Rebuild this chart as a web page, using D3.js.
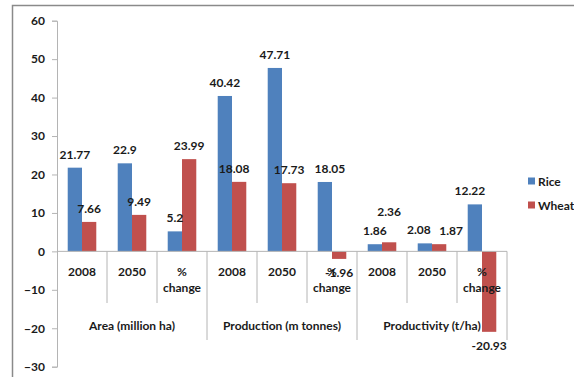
<!DOCTYPE html>
<html>
<head>
<meta charset="utf-8">
<script src="https://cdn.jsdelivr.net/npm/d3@7"></script>
<style>
  html, body { margin: 0; padding: 0; background: #fff; }
  svg { display: block; }
  text { font-family: Lato, "Liberation Sans", sans-serif; font-weight: bold; fill: #1a1a1a; }
</style>
</head>
<body>
<svg id="chart" width="574" height="377"></svg>
<script>
// ---- data ----
const categories = ["2008", "2050", "% change", "2008", "2050", "% change", "2008", "2050", "% change"];
const groups = ["Area (million ha)", "Production (m tonnes)", "Productivity (t/ha)"];
const rice  = [21.77, 22.9, 5.2, 40.42, 47.71, 18.05, 1.86, 2.08, 12.22];
const wheat = [7.66, 9.49, 23.99, 18.08, 17.73, -1.96, 2.36, 1.87, -20.93];
const seriesNames = ["Rice", "Wheat"];
const yTicks = [60, 50, 40, 30, 20, 10, 0, -10, -20, -30];

// ---- layout (label nudges to mimic Excel's placement) ----
const labelNudge = {
  "Wheat-3": [-5, 0], "Rice-5": [5, 0], "Rice-8": [-5, 0],
  "Rice-7": [-6, 0], "Wheat-7": [12, 0], "Wheat-6": [0, -17]
};
const colors = { Rice: "#4F81BD", Wheat: "#C0504D" };

const svg = d3.select("#chart");
const pLeft = 57, pRight = 507, pTop = 20.7, pBottom = 366.7;

// frame
svg.append("rect").attr("x", 12.5).attr("y", 5.5).attr("width", 620).attr("height", 420)
  .attr("fill", "none").attr("stroke", "#8a8a8a").attr("stroke-width", 1.5);

const y = d3.scaleLinear().domain([-30, 60]).range([pBottom, pTop]);
const x = d3.scaleBand().domain(d3.range(categories.length)).range([pLeft, pRight]).padding(0);
const bw = x.bandwidth() / 3.5;

const axisColor = "#b4b4b4";

// y axis
const yAxis = d3.axisLeft(y).tickValues(yTicks).tickSize(5).tickPadding(7);
const gy = svg.append("g").attr("transform", `translate(${pLeft},0)`).call(yAxis);
gy.select(".domain").attr("stroke", axisColor);
gy.selectAll(".tick line").attr("stroke", axisColor);
gy.selectAll(".tick text").attr("font-size", 12).attr("font-family", "Lato, sans-serif")
  .attr("font-weight", "bold").attr("fill", "#1a1a1a");

// bars
const data = [];
categories.forEach((c, i) => {
  data.push({ s: "Rice", i, v: rice[i] });
  data.push({ s: "Wheat", i, v: wheat[i] });
});
const bx = d => x(d.i) + 0.75 * bw + (d.s === "Wheat" ? bw : 0);

svg.append("g").selectAll("rect").data(data).join("rect")
  .attr("x", bx)
  .attr("y", d => y(Math.max(0, d.v)))
  .attr("width", bw)
  .attr("height", d => Math.abs(y(d.v) - y(0)))
  .attr("fill", d => colors[d.s]);

// x axis baseline and separators
svg.append("line").attr("x1", pLeft).attr("x2", pRight).attr("y1", y(0)).attr("y2", y(0))
  .attr("stroke", axisColor);
d3.range(1, categories.length + 1).forEach(k => {
  const xx = k === categories.length ? pRight : x(k);
  const long = k % 3 === 0;
  svg.append("line").attr("x1", xx).attr("x2", xx).attr("y1", y(0)).attr("y2", long ? 340 : 303)
    .attr("stroke", axisColor);
});

// category labels
categories.forEach((c, i) => {
  const cx = x(i) + x.bandwidth() / 2;
  const t = svg.append("text").attr("x", cx).attr("text-anchor", "middle").attr("font-size", 12);
  if (c === "% change") {
    t.append("tspan").attr("x", cx).attr("y", 276).text("%");
    t.append("tspan").attr("x", cx).attr("y", 292).text("change");
  } else {
    t.attr("y", 276).text(c);
  }
});

// group labels
groups.forEach((g, j) => {
  svg.append("text").attr("x", pLeft + x.bandwidth() * 3 * j + x.bandwidth() * 1.5)
    .attr("y", 330).attr("text-anchor", "middle").attr("font-size", 12).text(g);
});

// data labels
svg.append("g").selectAll("text").data(data).join("text")
  .attr("text-anchor", "middle").attr("font-size", 12)
  .attr("x", d => bx(d) + bw / 2 + (labelNudge[d.s + "-" + d.i] || [0, 0])[0])
  .attr("y", d => (d.v >= 0 ? y(d.v) - 9 : y(d.v) + 18) + (labelNudge[d.s + "-" + d.i] || [0, 0])[1])
  .text(d => d.v);

// legend
seriesNames.forEach((s, k) => {
  const ly = 181 + k * 24;
  svg.append("rect").attr("x", 528).attr("y", ly - 3.5).attr("width", 7).attr("height", 7).attr("fill", colors[s]);
  svg.append("text").attr("x", 538).attr("y", ly + 4.5).attr("font-size", 12).text(s);
});
</script>
</body>
</html>
